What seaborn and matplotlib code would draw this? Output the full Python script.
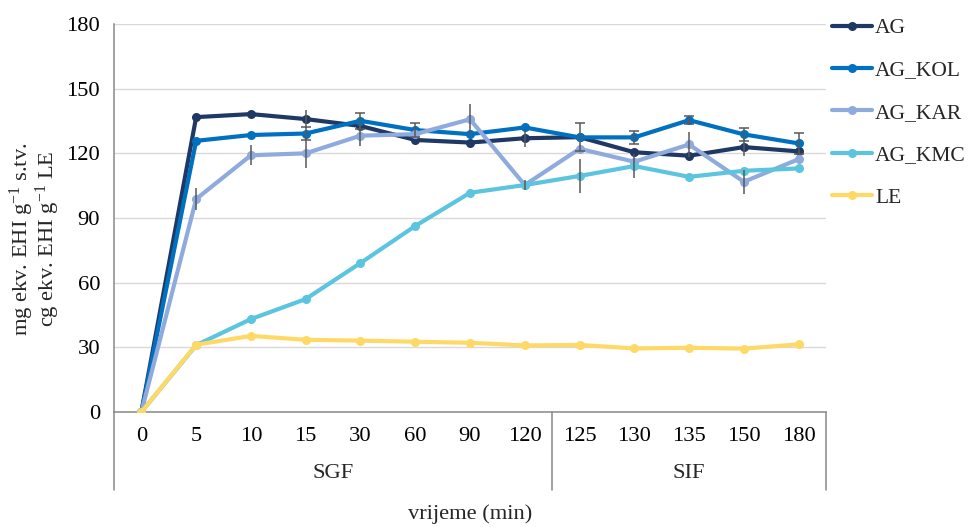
import numpy as np
import pandas as pd
import matplotlib
matplotlib.use('Agg')
import matplotlib.pyplot as plt
import matplotlib.transforms as mtransforms
from matplotlib.lines import Line2D
import seaborn as sns

# ---------------- data ----------------
time_labels = ['0', '5', '10', '15', '30', '60', '90', '120', '125', '130', '135', '150', '180']
phase_labels = ['SGF', 'SIF']
phase_sizes = [8, 5]
series_names = ['AG', 'AG_KOL', 'AG_KAR', 'AG_KMC', 'LE']

ag = [0, 136.8, 138.2, 135.9, 132.7, 126.2, 125.0, 127.0, 127.5, 120.5, 118.9, 122.9, 120.9]
ag_kol = [0, 125.8, 128.5, 129.2, 135.1, 130.8, 128.9, 132.0, 127.4, 127.4, 135.4, 128.8, 124.6]
ag_kar = [0, 98.8, 119.1, 120.0, 128.2, 128.9, 135.8, 105.3, 122.1, 116.1, 124.1, 106.8, 117.3]
ag_kmc = [0, 31.0, 43.1, 52.4, 69.1, 86.3, 101.7, 105.3, 109.5, 114.1, 109.1, 111.9, 113.0]
le = [0, 31.2, 35.3, 33.5, 33.1, 32.6, 32.1, 30.9, 31.1, 29.5, 29.8, 29.4, 31.4]

err_ag = [0, 0, 0, 4.3, 0, 0, 0, 3.9, 0, 0, 0, 4.0, 0]
err_kol = [0, 0, 0, 2.9, 3.7, 3.1, 0, 0, 6.5, 2.9, 1.9, 3.0, 5.0]
err_kar = [0, 5.0, 4.6, 7.0, 4.8, 0, 7.1, 2.3, 0, 0, 5.9, 5.7, 0]
err_kmc = [0, 0, 0, 0, 0, 0, 0, 0, 8.0, 5.7, 0, 0, 0]
err_le = [0] * 13

y_ticks = [0, 30, 60, 90, 120, 150, 180]

colors = ['#203864', '#0070C0', '#8FAADC', '#5BC4DF', '#FFD966']

# ---------------- build frame ----------------
values = [ag, ag_kol, ag_kar, ag_kmc, le]
errors = [err_ag, err_kol, err_kar, err_kmc, err_le]
rows = []
for name, vals in zip(series_names, values):
    for i, v in enumerate(vals):
        rows.append({'pos': i, 'value': v, 'series': name})
df = pd.DataFrame(rows)

# ---------------- style ----------------
sns.set_theme(style='white')
plt.rcParams['font.family'] = ['Liberation Serif', 'DejaVu Serif']
plt.rcParams['mathtext.fontset'] = 'custom'
plt.rcParams['mathtext.rm'] = 'Liberation Serif'
plt.rcParams['mathtext.it'] = 'Liberation Serif:italic'

FS = 16.2
FS_LEG = 15.5

W, H = 970, 527
fig = plt.figure(figsize=(W / 100, H / 100), dpi=100)
ax = fig.add_axes([114 / W, 1 - 412 / H, 712 / W, 388 / H])

palette = dict(zip(series_names, colors))
sns.lineplot(data=df, x='pos', y='value', hue='series', hue_order=series_names,
             palette=palette, marker='o', markersize=6.5, markeredgewidth=0,
             linewidth=3, legend=False, ax=ax, zorder=3)

# error bars
for name, vals, errs in zip(series_names, values, errors):
    cap = 3.5 if name == 'AG_KOL' else 0
    for i, (v, e) in enumerate(zip(vals, errs)):
        if e > 0:
            ax.errorbar([i], [v], yerr=[e], fmt='none', ecolor='#595959',
                        elinewidth=1.1, capsize=cap, capthick=1.1, zorder=6)

ax.set_xlim(-0.5, 12.5)
ax.set_ylim(0, 180)
ax.set_yticks(y_ticks)
ax.set_yticklabels([str(t) for t in y_ticks], fontsize=FS)
ax.set_xticks(range(len(time_labels)))
ax.set_xticklabels(time_labels, fontsize=FS)
ax.tick_params(axis='both', length=0, colors='#000000')
ax.tick_params(axis='y', pad=10)
ax.tick_params(axis='x', pad=11)
ax.set_xlabel('')
ax.set_ylabel('')

ax.grid(axis='y', color='#D9D9D9', linewidth=1)
ax.grid(axis='x', visible=False)
for s in ['top', 'right']:
    ax.spines[s].set_visible(False)
for s in ['left', 'bottom']:
    ax.spines[s].set_color('#898989')
    ax.spines[s].set_linewidth(1.1)

# category table lines below axis
blend = mtransforms.blended_transform_factory(ax.transData, ax.transAxes)
tbl_bottom = -(490 - 412) / 388
line_kw = dict(color='#898989', lw=1.1, clip_on=False)
ax.plot([-0.5, -0.5], [0, tbl_bottom], transform=blend, **line_kw)
edge = -0.5
for size in phase_sizes:
    edge += size
    ax.plot([edge, edge], [0, tbl_bottom], transform=blend, **line_kw)

start = -0.5
for lab, size in zip(phase_labels, phase_sizes):
    ax.text(start + size / 2, -(474 - 412) / 388, lab, transform=blend,
            ha='center', va='center', fontsize=FS)
    start += size

ax.text(0.5, -(514 - 412) / 388, 'vrijeme (min)', transform=ax.transAxes,
        ha='center', va='center', fontsize=FS)

fig.text(35 / W, 1 - 239 / H,
         'mg ekv. EHI g$^{-1}$ s.tv.\ncg ekv. EHI g$^{-1}$ LE',
         rotation=90, ha='center', va='center', multialignment='center',
         fontsize=FS, linespacing=0.85)

handles = [Line2D([], [], color=c, lw=3, marker='o', markersize=6.5,
                  markeredgewidth=0) for c in colors]
fig.legend(handles, series_names, loc='upper left',
           bbox_to_anchor=(832 / W, 1 - 18 / H), frameon=False, fontsize=FS_LEG,
           handlelength=1.85, handletextpad=0.15, labelspacing=1.04,
           borderpad=0, borderaxespad=0)

fig.savefig('out.png', dpi=100)
